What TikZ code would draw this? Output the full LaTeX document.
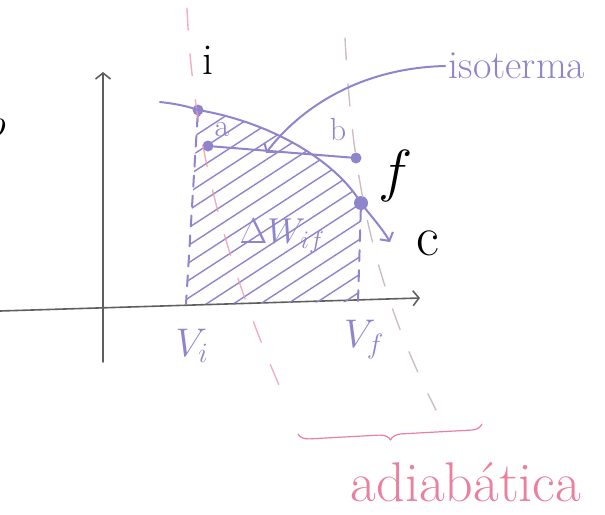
\RequirePackage{fix-cm}
\documentclass[tikz,border=0pt]{standalone}
\usepackage{tikz}
\usetikzlibrary{arrows.meta,decorations.pathreplacing}
\definecolor{lila}{RGB}{143,133,204}
\definecolor{rosa}{RGB}{234,128,158}
\definecolor{gris}{RGB}{95,95,95}
\definecolor{grisrosa}{RGB}{205,190,195}

\begin{document}
\begin{tikzpicture}[x=1pt,y=-1pt,>={Straight Barb[length=6pt,width=15pt]},line join=round,line cap=round,
  punto/.style={circle,fill=lila,inner sep=0pt,minimum size=11pt},
  curva/.style={draw=lila,line width=2pt},
  eje/.style={draw=gris,line width=1.6pt,->},
  adiab/.style={line width=1.4pt,dash pattern=on 22pt off 24pt},
  txt/.style={font=\fontsize{#1}{#1}\selectfont}]
	\useasboundingbox (0,0) rectangle (605,514);

	% [Ejes]
	\coordinate (O1) at (103,362); \coordinate (Ymax) at (103,72);
	\coordinate (O2) at (0,311); \coordinate (Xmax) at (420,298);
	\draw[eje] (O1) -- (Ymax);
	\draw[eje] (O2) -- (Xmax);
	\node[txt=40] (p) at (-4,132) {$p$};

	% [Puntos]
	\node[punto] (i) at (198,110) {};
	\node[punto] (a) at (208,146) {};
	\node[punto] (b) at (356,158) {};
	\node[punto,minimum size=14pt] (f) at (361,203) {};
	\coordinate (isoA) at (160,102);
	\coordinate (cEnd) at (390,242);
	\coordinate (Vi) at (186,304);
	\coordinate (Vf) at (358,302);

	% [Area rayada]
	\begin{scope}
		\clip (i.center) .. controls (270,122) and (335,160) .. (f.center) -- (Vf) -- (Vi) -- cycle;
		\foreach \x in {-100,-73,...,360}
			\draw[lila,line width=1.4pt] (\x-200,310+130) -- (\x+300,310-195);
	\end{scope}
	\draw[curva,dash pattern=on 11pt off 9pt] (i) -- (Vi);
	\draw[curva,dash pattern=on 11pt off 9pt] (f) -- (Vf);

	% [Adiabaticas]
	\draw[adiab,rosa!80,opacity=0.8] (187,8) .. controls (192,130) and (220,250) .. (282,392);
	\draw[adiab,grisrosa] (345,38) .. controls (352,170) and (370,280) .. (436,410);
	\draw[rosa,line width=1.2pt,decorate,decoration={brace,amplitude=11pt,mirror}] (298,434) -- (482,424);

	% [Isoterma y a-b]
	\draw[curva,->] (isoA) .. controls (178,104) and (190,107) .. (i.center)
		.. controls (270,122) and (335,160) .. (f.center)
		.. controls (370,215) and (382,228) .. (cEnd);
	\draw[curva] (a) -- (b);
	\node[txt=40,text=lila] (isoLabel) at (517,66) {isoterma};
	\coordinate (ab) at (266,153);
	\draw[curva,->] (isoLabel.west) .. controls (360,68) and (300,108) .. (ab);

	% [Etiquetas]
	\node[txt=44] at (208,60) {i};
	\node[txt=58] at (396,176) {$f$};
	\node[txt=56] at (428,243) {c};
	\node[txt=32,text=lila] at (222,130) {a};
	\node[txt=32,text=lila] at (338,130) {b};
	\node[txt=36,text=lila] at (282,236) {$\Delta W_{if}$};
	\node[txt=40,text=lila] at (192,346) {$V_i$};
	\node[txt=40,text=lila] at (364,340) {$V_f$};
	\node[txt=56,text=rosa] at (466,482) {adiabática};
\end{tikzpicture}
\end{document}
